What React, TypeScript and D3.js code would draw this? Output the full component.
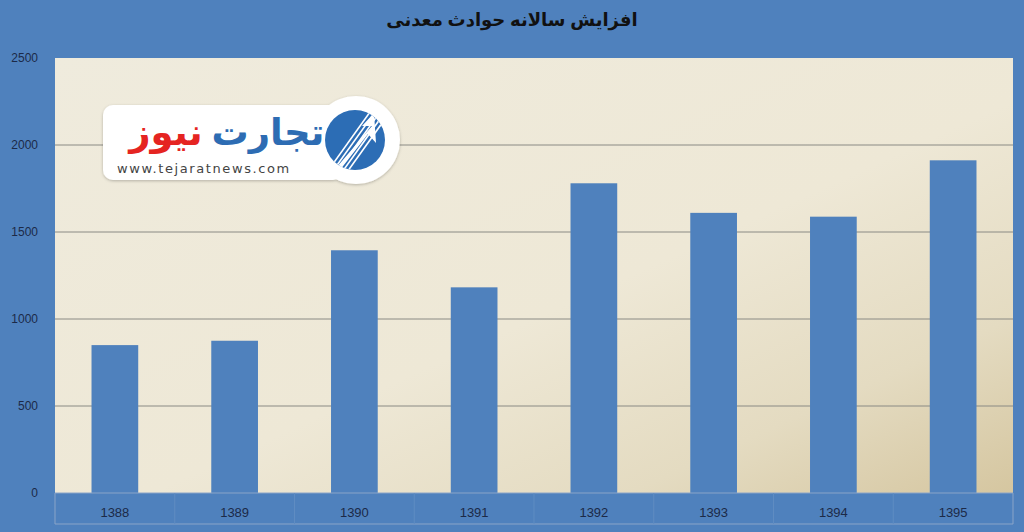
import React from "react";
import * as d3 from "d3";

const years = ["1388", "1389", "1390", "1391", "1392", "1393", "1394", "1395"];
const accidents = [850, 875, 1395, 1182, 1780, 1610, 1588, 1912];
const yTicks = [0, 500, 1000, 1500, 2000, 2500];
const title = "افزایش سالانه حوادث معدنی";

const W = 1024;
const H = 532;
const plot = { left: 55, right: 1013, top: 58, bottom: 493 };
const axisBottom = 524;

export default function App() {
  const x = d3
    .scaleBand<string>()
    .domain(years)
    .range([plot.left, plot.right])
    .paddingInner(0.61)
    .paddingOuter(0.305);
  const y = d3.scaleLinear().domain([0, 2500]).range([plot.bottom, plot.top]);
  const bounds = d3.range(years.length + 1).map((i) => plot.left + i * ((plot.right - plot.left) / years.length));

  return (
    <svg
      width={W}
      height={H}
      style={{ position: "absolute", left: 0, top: 0, display: "block" }}
      fontFamily="Liberation Sans, Arial, sans-serif"
    >
      <defs>
        <linearGradient id="bg" x1="0" y1="0" x2="1" y2="1">
          <stop offset="0%" stopColor="#efebdd" />
          <stop offset="55%" stopColor="#eee8d6" />
          <stop offset="80%" stopColor="#e4dbc1" />
          <stop offset="100%" stopColor="#d5c6a0" />
        </linearGradient>
        <clipPath id="circClip">
          <circle cx={355} cy={140} r={30} />
        </clipPath>
        <filter id="sh" x="-10%" y="-10%" width="120%" height="130%">
          <feDropShadow dx="0" dy="1" stdDeviation="1.5" floodColor="#000" floodOpacity="0.25" />
        </filter>
      </defs>
      <rect x={0} y={0} width={W} height={H} fill="#4f81bd" />
      <rect
        x={plot.left}
        y={plot.top}
        width={plot.right - plot.left}
        height={plot.bottom - plot.top}
        fill="url(#bg)"
      />
      {yTicks
        .filter((t) => t > 0 && t < 2500)
        .map((t) => (
          <line
            key={t}
            x1={plot.left}
            x2={plot.right}
            y1={y(t)}
            y2={y(t)}
            stroke="#8a8a84"
            strokeWidth={1}
          />
        ))}
      {yTicks.map((t) => (
        <text
          key={"yl" + t}
          x={38}
          y={y(t) + 4}
          textAnchor="end"
          fontSize={12}
          fill="#1c2a48"
        >
          {t}
        </text>
      ))}
      {/* logo */}
      <g filter="url(#sh)">
        <rect x={103} y={105} width={240} height={75} rx={10} fill="#ffffff" />
        <circle cx={356} cy={140} r={44} fill="#ffffff" />
      </g>
      <circle cx={355} cy={140} r={30} fill="#2c6db5" />
      <g clipPath="url(#circClip)">
        {d3.range(5).map((i) => (
          <line
            key={"st" + i}
            x1={325 + i * 5}
            y1={175}
            x2={375 + i * 5}
            y2={105}
            stroke="#ffffff"
            strokeWidth={1.6}
          />
        ))}
        <path d="M 336 168 L 372 126 L 362 126 L 374 113 L 376 143 L 368 134 L 340 170 Z" fill="#ffffff" />
      </g>
      <text x={268} y={145} textAnchor="middle" fontSize={37} fontWeight="bold" fill="#2d6cb3" fontFamily="Noto Sans, DejaVu Sans, sans-serif">
        تجارت
      </text>
      <text x={166} y={145} textAnchor="middle" fontSize={37} fontWeight="bold" fill="#e52421" fontFamily="Noto Sans, DejaVu Sans, sans-serif">
        نیوز
      </text>
      <text x={117} y={173} fontSize={13} fill="#444" letterSpacing={1.6} fontFamily="DejaVu Sans, sans-serif">
        www.tejaratnews.com
      </text>
      {/* bars */}
      {years.map((yr, i) => (
        <rect
          key={yr}
          x={x(yr)}
          y={y(accidents[i])}
          width={x.bandwidth()}
          height={plot.bottom - y(accidents[i])}
          fill="#4f81bd"
        />
      ))}
      {/* x axis box */}
      <line x1={plot.left} x2={plot.right} y1={plot.bottom} y2={plot.bottom} stroke="#8aa4c8" strokeWidth={1} />
      <line x1={plot.left} x2={plot.right} y1={axisBottom} y2={axisBottom} stroke="#8aa4c8" strokeWidth={1} />
      {bounds.map((bx, i) => (
        <line key={"b" + i} x1={bx} x2={bx} y1={plot.bottom} y2={axisBottom} stroke={i === 0 || i === years.length ? "#8aa4c8" : "#5f8cc2"} strokeWidth={1} />
      ))}
      {years.map((yr) => (
        <text
          key={"xl" + yr}
          x={(x(yr) as number) + x.bandwidth() / 2}
          y={517}
          textAnchor="middle"
          fontSize={13}
          fill="#1c2a48"
        >
          {yr}
        </text>
      ))}
      <text
        x={512}
        y={26}
        textAnchor="middle"
        fontSize={18}
        fontWeight="bold"
        fill="#111"
        fontFamily="Noto Sans, DejaVu Sans, sans-serif"
      >
        {title}
      </text>
    </svg>
  );
}
